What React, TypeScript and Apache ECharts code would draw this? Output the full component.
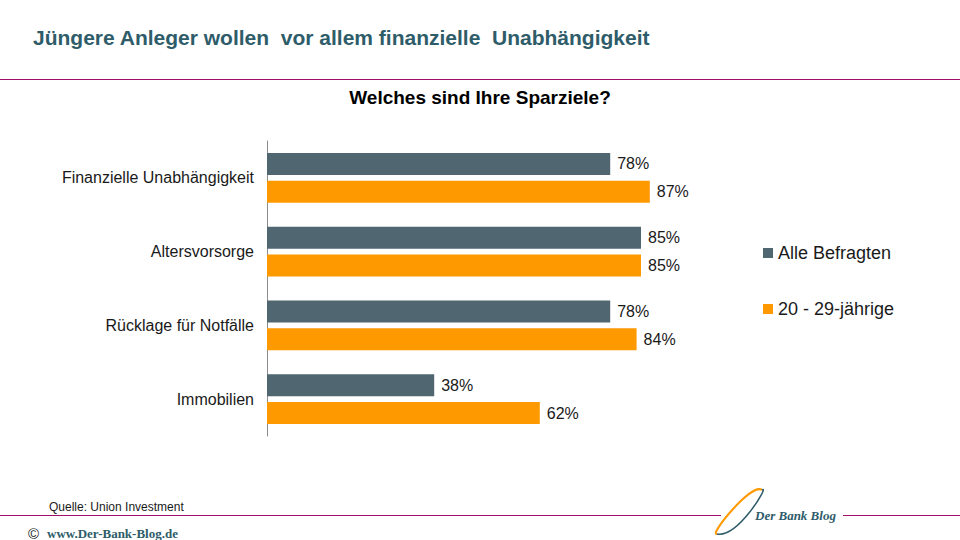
import React, { useEffect, useRef } from "react";
import * as echarts from "echarts";

const categories = [
  "Finanzielle Unabhängigkeit",
  "Altersvorsorge",
  "Rücklage für Notfälle",
  "Immobilien",
];
const seriesNames = ["Alle Befragten", "20 - 29-jährige"];
const alleBefragten = [78, 85, 78, 38];
const juengere = [87, 85, 84, 62];

const title = "Jüngere Anleger wollen  vor allem finanzielle  Unabhängigkeit";
const subtitle = "Welches sind Ihre Sparziele?";
const source = "Quelle: Union Investment";
const website = "www.Der-Bank-Blog.de";
const logoText = "Der Bank Blog";

const GRAY = "#506670";
const ORANGE = "#FF9900";
const TEAL = "#2E5C69";
const LINE = "#A0106A";

export default function App() {
  const ref = useRef<HTMLDivElement>(null);
  useEffect(() => {
    if (!ref.current) return;
    const chart = echarts.init(ref.current, null, { renderer: "svg" });
    const font = "Liberation Sans, Arial, sans-serif";
    const serif = "Liberation Serif, DejaVu Serif, serif";
    const valueLabel = {
      show: true,
      position: "right",
      distance: 7,
      formatter: "{c}%",
      fontSize: 16,
      color: "#1a1a1a",
      fontFamily: font,
    };
    chart.setOption({
      animation: false,
      backgroundColor: "#ffffff",
      textStyle: { fontFamily: font },
      grid: { left: 267, top: 141, width: 440, height: 295, containLabel: false },
      xAxis: {
        type: "value",
        min: 0,
        max: 100,
        show: false,
      },
      yAxis: {
        type: "category",
        data: categories,
        inverse: true,
        axisLine: { show: true, lineStyle: { color: "#8c8c8c", width: 1 } },
        axisTick: { show: false },
        axisLabel: { fontSize: 16, color: "#1a1a1a", margin: 13, fontFamily: font },
      },
      legend: {
        orient: "vertical",
        left: 758,
        top: 239,
        itemWidth: 10,
        itemHeight: 10,
        itemGap: 38,
        icon: "rect",
        textStyle: { fontSize: 18, color: "#1a1a1a", fontFamily: font },
        data: seriesNames,
      },
      series: [
        {
          name: seriesNames[0],
          type: "bar",
          data: alleBefragten,
          barWidth: 22,
          barGap: "27%",
          itemStyle: { color: GRAY },
          label: valueLabel,
        },
        {
          name: seriesNames[1],
          type: "bar",
          data: juengere,
          barWidth: 22,
          barGap: "27%",
          itemStyle: { color: ORANGE },
          label: valueLabel,
        },
      ],
      graphic: [
        {
          type: "text",
          left: 33,
          top: 27,
          style: {
            text: title,
            fontSize: 21,
            fontWeight: "bold",
            fill: TEAL,
            fontFamily: font,
          },
        },
        {
          type: "line",
          shape: { x1: 0, y1: 79.5, x2: 960, y2: 79.5 },
          style: { stroke: LINE, lineWidth: 1 },
        },
        {
          type: "text",
          x: 480,
          y: 97,
          style: {
            text: subtitle,
            fontSize: 19,
            fontWeight: "bold",
            fill: "#000",
            fontFamily: font,
            align: "center",
            verticalAlign: "middle",
          },
        },
        {
          type: "text",
          x: 49,
          y: 507,
          style: {
            text: source,
            fontSize: 12,
            fill: "#1a1a1a",
            fontFamily: font,
            verticalAlign: "middle",
          },
        },
        {
          type: "line",
          shape: { x1: 0, y1: 515.5, x2: 721, y2: 515.5 },
          style: { stroke: LINE, lineWidth: 1 },
        },
        {
          type: "line",
          shape: { x1: 843, y1: 515.5, x2: 960, y2: 515.5 },
          style: { stroke: LINE, lineWidth: 1 },
        },
        {
          type: "text",
          x: 28,
          y: 533,
          style: {
            text: "©",
            fontSize: 15,
            fill: "#1a1a1a",
            fontFamily: font,
            verticalAlign: "middle",
          },
        },
        {
          type: "text",
          x: 47,
          y: 533,
          style: {
            text: website,
            fontSize: 13,
            fill: TEAL,
            fontWeight: "bold",
            fontFamily: serif,
            verticalAlign: "middle",
          },
        },
        {
          type: "bezierCurve",
          shape: { x1: 717, y1: 534, x2: 762, y2: 490, cpx1: 708, cpy1: 536, cpx2: 752, cpy2: 482 },
          style: { stroke: ORANGE, lineWidth: 2, fill: null },
        },
        {
          type: "bezierCurve",
          shape: { x1: 717, y1: 534, x2: 762, y2: 490, cpx1: 738, cpy1: 538, cpx2: 770, cpy2: 484 },
          style: { stroke: TEAL, lineWidth: 1.5, fill: null },
        },
        {
          type: "text",
          x: 755,
          y: 515,
          style: {
            text: logoText,
            fontSize: 13,
            fontWeight: "bold",
            fontStyle: "italic",
            fill: TEAL,
            fontFamily: serif,
            verticalAlign: "middle",
          },
        },
      ],
    });
    return () => chart.dispose();
  }, []);
  return <div ref={ref} style={{ width: 960, height: 540, position: "absolute", left: 0, top: 0 }} />;
}
